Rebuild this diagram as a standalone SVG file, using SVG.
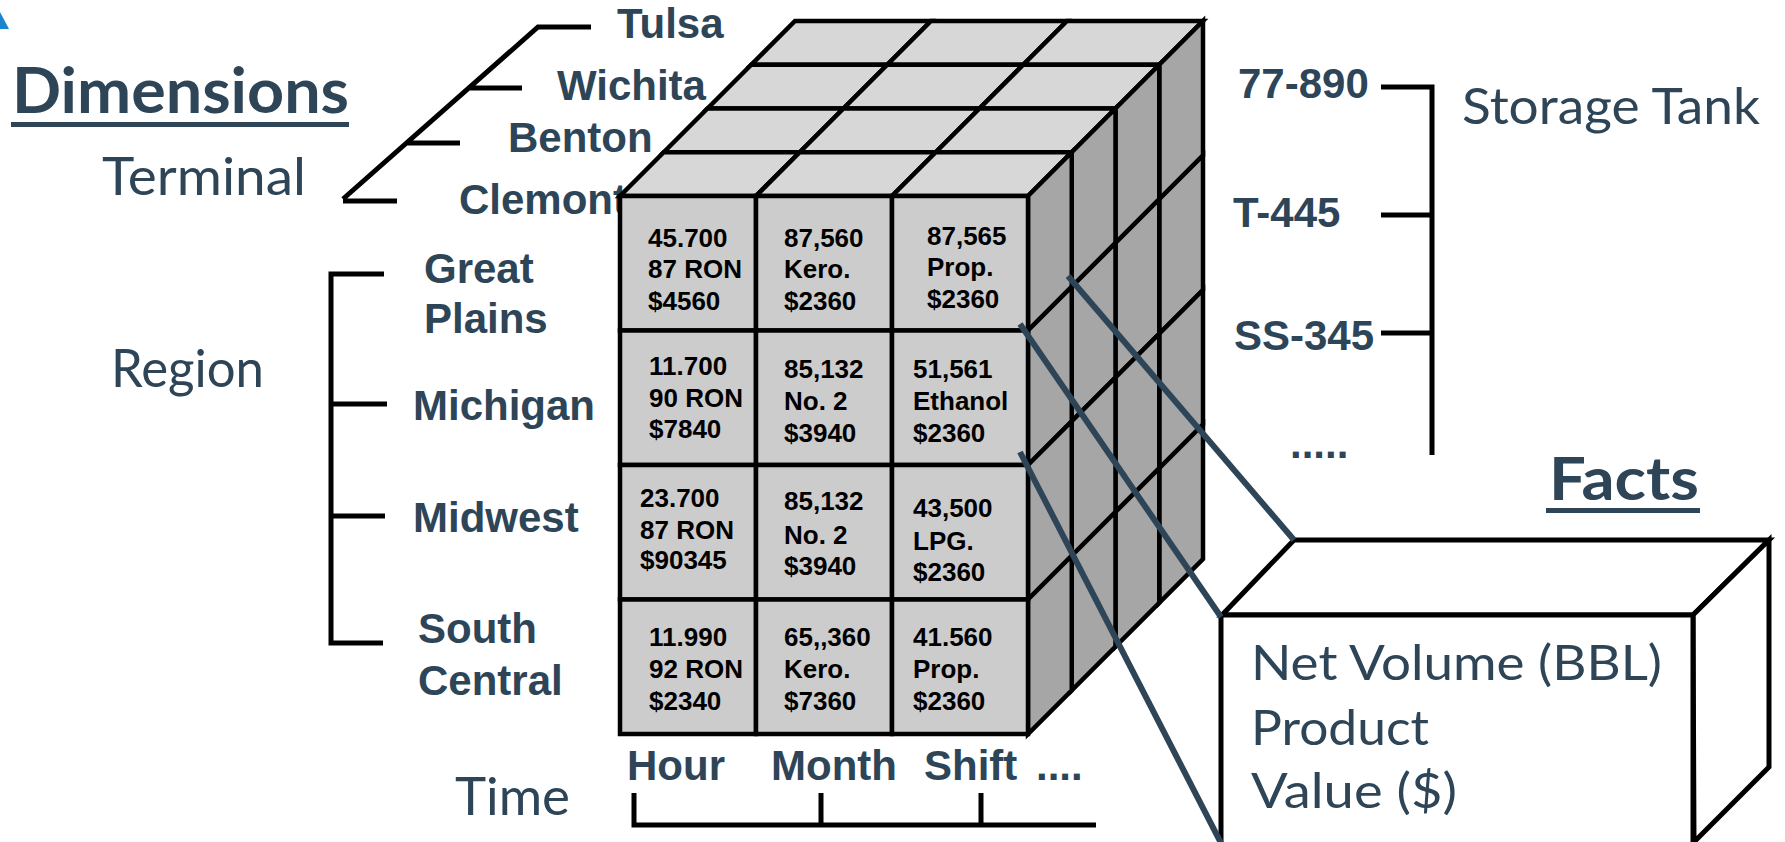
<svg xmlns="http://www.w3.org/2000/svg" xmlns:xlink="http://www.w3.org/1999/xlink" width="1785" height="842" viewBox="0 0 1785 842">
<style>
.big{font-family:Lato,"Open Sans",sans-serif;fill:#2E4558}
.bold{font-weight:bold}
.lbl{font-family:"Liberation Sans",Arial,sans-serif;font-weight:bold;font-size:42px;fill:#2E4558}
.cell{font-family:"Liberation Sans",Arial,sans-serif;font-weight:bold;font-size:26px;fill:#000}
.br{fill:none;stroke:#000;stroke-width:5}
.cf{fill:#CCCCCC;stroke:#000;stroke-width:4.5}
.ct{fill:#D7D7D7;stroke:#000;stroke-width:4.5}
.cr{fill:#A6A6A6;stroke:#000;stroke-width:4.5}
.box{fill:#FFFFFF;stroke:#000;stroke-width:5;stroke-linejoin:miter}
.conn{stroke:#2E4558;stroke-width:6;fill:none}
</style>
<defs>
<polygon id="tc" points="0,0 136,0 179.75,-43.75 43.75,-43.75"/>
<polygon id="rc" points="0,0 43.75,-43.75 43.75,90.75 0,134.5"/>
<rect id="fc" width="136" height="134.5"/>
</defs>
<rect width="1785" height="842" fill="#FFFFFF"/>
<polygon points="0,12 9,29 0,29" fill="#1A86D0"/>

<g id="dimensions-title">
<text class="big bold" x="12" y="113" font-size="63" textLength="337" lengthAdjust="spacingAndGlyphs">Dimensions</text>
<rect x="11" y="122" width="338" height="5" fill="#2E4558"/>
</g>

<g id="terminal">
<text class="big" x="102" y="195" font-size="53" textLength="204" lengthAdjust="spacingAndGlyphs">Terminal</text>
<path class="br" d="M343,199 L538,27 L591,27 M469,88 L522,88 M407,143 L460,143 M343,201 L397,201"/>
<text class="lbl" x="617" y="38">Tulsa</text>
<text class="lbl" x="557" y="100">Wichita</text>
<text class="lbl" x="508" y="152">Benton</text>
<text class="lbl" x="459" y="214">Clemont</text>
</g>

<g id="region">
<text class="big" x="111" y="387" font-size="52" textLength="153" lengthAdjust="spacingAndGlyphs">Region</text>
<path class="br" d="M384,274 L331,274 L331,643 L383,643 M331,404 L387,404 M331,516 L385,516"/>
<text class="lbl" x="424" y="283">Great</text>
<text class="lbl" x="424" y="333">Plains</text>
<text class="lbl" x="413" y="420">Michigan</text>
<text class="lbl" x="413" y="532">Midwest</text>
<text class="lbl" x="418" y="643">South</text>
<text class="lbl" x="418" y="695">Central</text>
</g>

<g id="time">
<text class="big" x="455" y="815" font-size="52" textLength="115" lengthAdjust="spacingAndGlyphs">Time</text>
<path class="br" d="M634,793 L634,825 L1096,825 M821,793 L821,825 M981,793 L981,825"/>
<text class="lbl" x="627" y="780">Hour</text>
<text class="lbl" x="771" y="780">Month</text>
<text class="lbl" x="924" y="780">Shift</text>
<text class="lbl" x="1036" y="780">....</text>
</g>

<g id="storage-tank">
<text class="big" x="1462" y="124" font-size="50" textLength="298" lengthAdjust="spacingAndGlyphs">Storage Tank</text>
<path class="br" d="M1381,87 L1432,87 L1432,455 M1381,215 L1432,215 M1381,333 L1432,333"/>
<text class="lbl" x="1238" y="98">77-890</text>
<text class="lbl" x="1233" y="227">T-445</text>
<text class="lbl" x="1234" y="350">SS-345</text>
<text class="lbl" x="1290" y="458">.....</text>
</g>

<g id="cube">
<g id="cube-top">
<use xlink:href="#tc" href="#tc" class="ct" x="751.25" y="64.75"/>
<use xlink:href="#tc" href="#tc" class="ct" x="887.25" y="64.75"/>
<use xlink:href="#tc" href="#tc" class="ct" x="1023.25" y="64.75"/>
<use xlink:href="#tc" href="#tc" class="ct" x="707.5" y="108.5"/>
<use xlink:href="#tc" href="#tc" class="ct" x="843.5" y="108.5"/>
<use xlink:href="#tc" href="#tc" class="ct" x="979.5" y="108.5"/>
<use xlink:href="#tc" href="#tc" class="ct" x="663.75" y="152.25"/>
<use xlink:href="#tc" href="#tc" class="ct" x="799.75" y="152.25"/>
<use xlink:href="#tc" href="#tc" class="ct" x="935.75" y="152.25"/>
<use xlink:href="#tc" href="#tc" class="ct" x="620" y="196"/>
<use xlink:href="#tc" href="#tc" class="ct" x="756" y="196"/>
<use xlink:href="#tc" href="#tc" class="ct" x="892" y="196"/>
</g>
<g id="cube-right">
<use xlink:href="#rc" href="#rc" class="cr" x="1159.25" y="64.75"/>
<use xlink:href="#rc" href="#rc" class="cr" x="1159.25" y="199.25"/>
<use xlink:href="#rc" href="#rc" class="cr" x="1159.25" y="333.75"/>
<use xlink:href="#rc" href="#rc" class="cr" x="1159.25" y="468.25"/>
<use xlink:href="#rc" href="#rc" class="cr" x="1115.5" y="108.5"/>
<use xlink:href="#rc" href="#rc" class="cr" x="1115.5" y="243"/>
<use xlink:href="#rc" href="#rc" class="cr" x="1115.5" y="377.5"/>
<use xlink:href="#rc" href="#rc" class="cr" x="1115.5" y="512"/>
<use xlink:href="#rc" href="#rc" class="cr" x="1071.75" y="152.25"/>
<use xlink:href="#rc" href="#rc" class="cr" x="1071.75" y="286.75"/>
<use xlink:href="#rc" href="#rc" class="cr" x="1071.75" y="421.25"/>
<use xlink:href="#rc" href="#rc" class="cr" x="1071.75" y="555.75"/>
<use xlink:href="#rc" href="#rc" class="cr" x="1028" y="196"/>
<use xlink:href="#rc" href="#rc" class="cr" x="1028" y="330.5"/>
<use xlink:href="#rc" href="#rc" class="cr" x="1028" y="465"/>
<use xlink:href="#rc" href="#rc" class="cr" x="1028" y="599.5"/>
</g>
<g id="cube-front">
<use xlink:href="#fc" href="#fc" class="cf" x="620" y="196"/>
<use xlink:href="#fc" href="#fc" class="cf" x="756" y="196"/>
<use xlink:href="#fc" href="#fc" class="cf" x="892" y="196"/>
<use xlink:href="#fc" href="#fc" class="cf" x="620" y="330.5"/>
<use xlink:href="#fc" href="#fc" class="cf" x="756" y="330.5"/>
<use xlink:href="#fc" href="#fc" class="cf" x="892" y="330.5"/>
<use xlink:href="#fc" href="#fc" class="cf" x="620" y="465"/>
<use xlink:href="#fc" href="#fc" class="cf" x="756" y="465"/>
<use xlink:href="#fc" href="#fc" class="cf" x="892" y="465"/>
<use xlink:href="#fc" href="#fc" class="cf" x="620" y="599.5"/>
<use xlink:href="#fc" href="#fc" class="cf" x="756" y="599.5"/>
<use xlink:href="#fc" href="#fc" class="cf" x="892" y="599.5"/>
</g>
<g id="cube-values">
<text class="cell"><tspan x="648" y="247">45.700</tspan><tspan x="648" y="278">87 RON</tspan><tspan x="648" y="310">$4560</tspan></text>
<text class="cell"><tspan x="784" y="247">87,560</tspan><tspan x="784" y="278">Kero.</tspan><tspan x="784" y="310">$2360</tspan></text>
<text class="cell"><tspan x="927" y="245">87,565</tspan><tspan x="927" y="276">Prop.</tspan><tspan x="927" y="308">$2360</tspan></text>
<text class="cell"><tspan x="649" y="375">11.700</tspan><tspan x="649" y="407">90 RON</tspan><tspan x="649" y="438">$7840</tspan></text>
<text class="cell"><tspan x="784" y="378">85,132</tspan><tspan x="784" y="410">No. 2</tspan><tspan x="784" y="442">$3940</tspan></text>
<text class="cell"><tspan x="913" y="378">51,561</tspan><tspan x="913" y="410">Ethanol</tspan><tspan x="913" y="442">$2360</tspan></text>
<text class="cell"><tspan x="640" y="507">23.700</tspan><tspan x="640" y="539">87 RON</tspan><tspan x="640" y="569">$90345</tspan></text>
<text class="cell"><tspan x="784" y="510">85,132</tspan><tspan x="784" y="544">No. 2</tspan><tspan x="784" y="575">$3940</tspan></text>
<text class="cell"><tspan x="913" y="517">43,500</tspan><tspan x="913" y="550">LPG.</tspan><tspan x="913" y="581">$2360</tspan></text>
<text class="cell"><tspan x="649" y="646">11.990</tspan><tspan x="649" y="678">92 RON</tspan><tspan x="649" y="710">$2340</tspan></text>
<text class="cell"><tspan x="784" y="646">65,,360</tspan><tspan x="784" y="678">Kero.</tspan><tspan x="784" y="710">$7360</tspan></text>
<text class="cell"><tspan x="913" y="646">41.560</tspan><tspan x="913" y="678">Prop.</tspan><tspan x="913" y="710">$2360</tspan></text>
</g>
</g>

<g id="facts">
<text class="big bold" x="1549" y="500" font-size="60" textLength="150" lengthAdjust="spacingAndGlyphs">Facts</text>
<rect x="1546" y="508" width="154" height="5" fill="#2E4558"/>
<polygon class="box" points="1222,615 1294,540 1769,540 1693,615"/>
<polygon class="box" points="1693,615 1769,540 1769,767 1694,842"/>
<rect class="box" x="1221" y="615" width="472" height="232"/>
<text class="big" x="1251" y="680" font-size="49" textLength="411" lengthAdjust="spacingAndGlyphs">Net Volume (BBL)</text>
<text class="big" x="1251" y="745" font-size="49" textLength="178" lengthAdjust="spacingAndGlyphs">Product</text>
<text class="big" x="1251" y="808" font-size="49" textLength="206" lengthAdjust="spacingAndGlyphs">Value ($)</text>
</g>

<g id="connectors">
<line class="conn" x1="1068" y1="276" x2="1294" y2="540"/>
<line class="conn" x1="1020" y1="324" x2="1221" y2="617"/>
<line class="conn" x1="1020" y1="452" x2="1222" y2="845"/>
</g>
</svg>
